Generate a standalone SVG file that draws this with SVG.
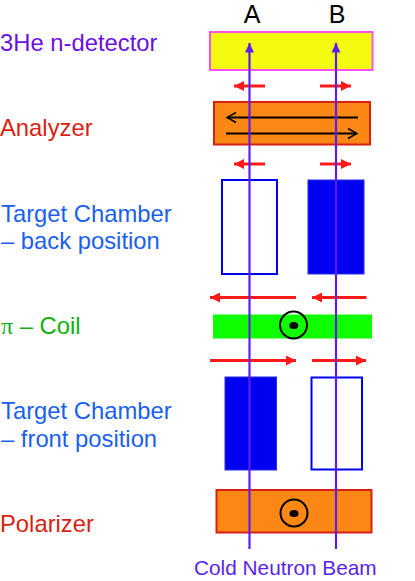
<svg xmlns="http://www.w3.org/2000/svg" width="415" height="581" viewBox="0 0 415 581">
<defs>
<marker id="rh" markerUnits="userSpaceOnUse" markerWidth="11" markerHeight="10" refX="10" refY="5" orient="auto"><path d="M0 0L10 5L0 10Z" fill="#ff1a1a"/></marker>
<marker id="bh" markerUnits="userSpaceOnUse" markerWidth="11" markerHeight="12" refX="10" refY="6" orient="auto"><path d="M1 1L10 6L1 11" fill="none" stroke="#000" stroke-width="1.500"/></marker>
<marker id="vh" markerUnits="userSpaceOnUse" markerWidth="10" markerHeight="11" refX="5" refY="1" orient="0"><path d="M5 1L9.500 10.500H0.500Z" fill="#5a1ff0"/></marker>
</defs>
<style>
text{font-family:"Liberation Sans",Arial,sans-serif;font-size:23.800px}
.r{stroke:#ff1a1a;stroke-width:3;fill:none;marker-end:url(#rh)}
.b{stroke:#000;stroke-width:1.800;fill:none;marker-end:url(#bh)}
.v{stroke:#5a1ff0;stroke-width:2.200;fill:none;marker-end:url(#vh)}
.tc{fill:#1a5ff0}
.open{fill:#fff;stroke:#0000f0;stroke-width:2}
.full{fill:#0000f0;stroke:#2a2af0;stroke-width:1}
.or{fill:#fb8714;stroke:#d81f12;stroke-width:2}
.ring{fill:none;stroke:#000;stroke-width:2}
</style>
<g id="label-a"><text x="252" y="23" text-anchor="middle" style="font-size:25px">A</text></g>
<g id="label-b"><text x="337" y="23" text-anchor="middle" style="font-size:25px">B</text></g>
<g id="detector"><rect x="210" y="32" width="162.500" height="38" fill="#f4fb10" stroke="#ff50f0" stroke-width="2"/><text x="0" y="51" fill="#6a10e0">3He n-detector</text></g>
<g id="analyzer"><rect x="214" y="102" width="156" height="42.500" class="or"/><text x="0" y="136" fill="#d81f12">Analyzer</text></g>
<g id="chamber-back"><rect x="222" y="180" width="55" height="94" class="open"/><rect x="308" y="180" width="56" height="94" class="full"/><text x="1" y="222" class="tc">Target Chamber</text><text x="1" y="249" class="tc">– back position</text></g>
<g id="coil"><rect x="213" y="314.500" width="159" height="24" fill="#10ff00"/><circle cx="293.500" cy="325" r="13.500" class="ring"/><ellipse cx="293.800" cy="325.500" rx="4.500" ry="3.500"/><text x="1" y="334" fill="#10b010"><tspan font-family="'Liberation Serif',serif">π</tspan> – Coil</text></g>
<g id="chamber-front"><rect x="225" y="377" width="51.500" height="93" fill="#0000f0" stroke="#2a2af0"/><rect x="311.500" y="377.500" width="50.500" height="92" class="open"/><text x="1" y="419" class="tc">Target Chamber</text><text x="1" y="447" class="tc">– front position</text></g>
<g id="polarizer"><rect x="216.500" y="490" width="155" height="42.500" class="or"/><circle cx="294" cy="513" r="13.500" class="ring"/><ellipse cx="294" cy="513.500" rx="4.500" ry="3.500"/><text x="0" y="532" fill="#d81f12">Polarizer</text></g>
<g id="connectors">
<path d="M265 86H234" class="r"/><path d="M320 86H351" class="r"/>
<path d="M265 164H234" class="r"/><path d="M320 164H351" class="r"/>
<path d="M296 297.500H210" class="r"/><path d="M366.500 297.500H312" class="r"/>
<path d="M210 360.500H296" class="r"/><path d="M312 360.500H366" class="r"/>
<path d="M358 117.500H227" class="b"/><path d="M226 133.500H357" class="b"/>
<path d="M249.500 549V43" class="v"/><path d="M336 549V43" class="v"/>
</g>
<g id="beam-label"><text x="194" y="575" fill="#5a1ff0" style="font-size:20.800px">Cold Neutron Beam</text></g>
</svg>
